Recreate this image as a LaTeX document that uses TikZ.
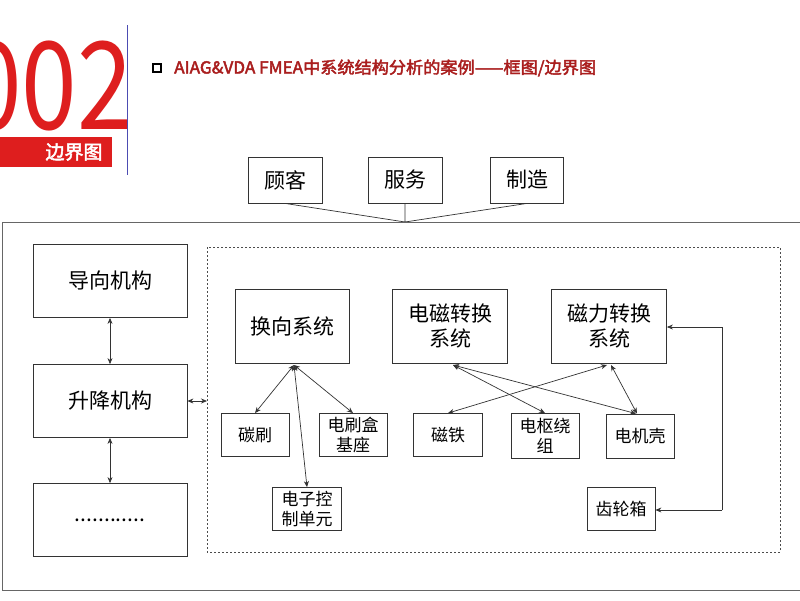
\documentclass[tikz,border=0pt]{standalone}
\usepackage{fontspec}
\setmainfont{Noto Sans CJK SC}
\newfontfamily\cjkb{Noto Sans CJK SC}[FakeBold=2.5]
\usetikzlibrary{arrows.meta}
\definecolor{myred}{RGB}{222,30,30}
\definecolor{tred}{RGB}{170,30,30}
\begin{document}
\begin{tikzpicture}[x=1pt,y=-1pt,
  bx/.style={draw=black!80,line width=0.8pt,inner sep=0pt,align=center,font=\fontsize{21}{25}\selectfont},
  sb/.style={draw=black!80,line width=0.8pt,inner sep=0pt,align=center,font=\fontsize{17}{20}\selectfont},
  ln/.style={black!80,line width=0.7pt},
  da/.style={ln,{Stealth[length=6pt,width=5pt]}-{Stealth[length=6pt,width=5pt]}},
  sa/.style={ln,-{Stealth[length=6pt,width=5pt]}}]
\useasboundingbox (0,0) rectangle (800,600);
\clip (0,0) rectangle (800,600);
\fill[white] (0,0) rectangle (800,600);
% logo
\node[anchor=east,text=myred,font=\fontsize{122}{122}\selectfont,inner sep=0pt,xscale=0.82] (num) at (133,86) {002};
\fill[myred] (0,137) rectangle (112,167);
\node[text=white,font=\cjkb\fontsize{19}{20}\selectfont,anchor=east] (lt) at (106,152) {边界图};
\draw[blue!40!gray,line width=1pt] (127,25) coordinate (v1) -- (127,175) coordinate (v2);
\node[draw=black,line width=1.3pt,minimum size=8pt,inner sep=0pt] (sq) at (157,68) {};
\node[anchor=west,text=tred,font=\cjkb\fontsize{16.5}{18}\selectfont,inner sep=0pt,xscale=1.04] (title) at (174,68) {AIAG\&VDA FMEA中系统结构分析的案例——框图/边界图};
% top boxes
\node[bx,minimum width=74pt,minimum height=46pt] (gk) at (285,180) {顾客};
\node[bx,minimum width=74pt,minimum height=46pt] (fw) at (405,180) {服务};
\node[bx,minimum width=73pt,minimum height=46pt] (zz) at (527,180) {制造};
\coordinate (hub) at (405,222);
\draw[ln] (gk.south) -- (hub) (fw.south) -- (hub) (zz.south) -- (hub);
% outer box
\draw[black!60,line width=1pt] (2,222) rectangle (820,590);
% left column
\node[bx,minimum width=154pt,minimum height=73pt] (dx) at (110,281) {导向机构};
\node[bx,minimum width=154pt,minimum height=73pt] (sj) at (110,401) {升降机构};
\node[bx,minimum width=154pt,minimum height=73pt] (dd) at (110,520) {............};
\draw[da] (dx) -- (sj);
\draw[da] (sj) -- (dd);
% dashed box
\draw[black!70,line width=0.8pt,dash pattern=on 2pt off 2pt] (207,247) rectangle (780,552);
\coordinate (dl) at (207,401);
\draw[da] (sj.east) -- (dl);
% subsystems
\node[bx,minimum width=114pt,minimum height=74pt] (hx) at (292,326) {换向系统};
\node[bx,minimum width=115pt,minimum height=74pt] (dc) at (450,326) {电磁转换\\系统};
\node[bx,minimum width=115pt,minimum height=74pt] (cl) at (609,326) {磁力转换\\系统};
\node[sb,minimum width=68pt,minimum height=43pt] (ts) at (255,435) {碳刷};
\node[sb,minimum width=68pt,minimum height=43pt] (ds) at (353,435) {电刷盒\\基座};
\node[sb,minimum width=69pt,minimum height=43pt] (ec) at (307,509) {电子控\\制单元};
\node[sb,minimum width=69pt,minimum height=43pt] (ct) at (448,435) {磁铁};
\node[sb,minimum width=68pt,minimum height=45pt] (ds2) at (545,436) {电枢绕\\组};
\node[sb,minimum width=68pt,minimum height=44pt] (jk) at (640,436) {电机壳};
\node[sb,minimum width=68pt,minimum height=43pt] (cx) at (621,509) {齿轮箱};
\coordinate (h1) at (294,365);
\draw[da] (h1) -- (ts.north);
\draw[da] (h1) -- (ds.north);
\draw[da] (h1) -- (ec.north);
\coordinate (h2) at (453,365);
\draw[da] (h2) -- (ds2.north);
\draw[da] (h2) -- ([xshift=-4pt]jk.north);
\coordinate (h3) at (607,365);
\coordinate (h3b) at (611,365);
\draw[da] (h3) -- (ct.north);
\draw[da] (h3b) -- ([xshift=-3pt]jk.north);
\coordinate (r1) at (722,327);
\coordinate (r2) at (722,510);
\draw[ln] (r1) -- (r2);
\draw[sa] (r1) -- (cl.east |- r1);
\draw[sa] (r2) -- (cx.east |- r2);
\end{tikzpicture}
\end{document}
